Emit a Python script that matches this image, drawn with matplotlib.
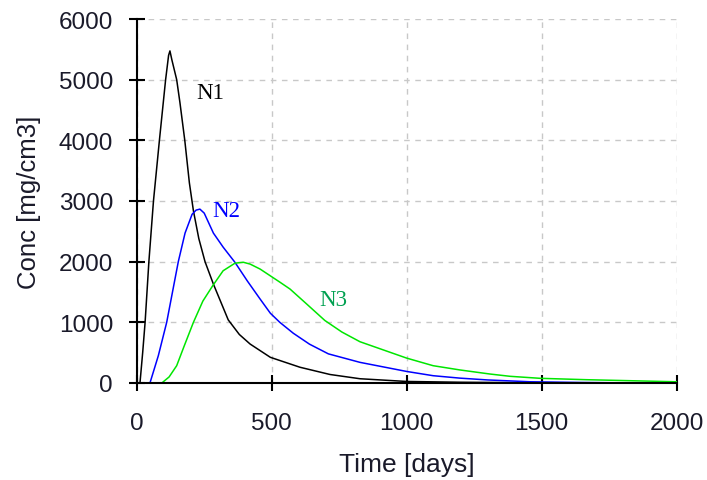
import numpy as np
import matplotlib.pyplot as plt

n1_t = [12, 22, 31, 45, 62, 84, 107, 118, 123, 130, 148, 160, 178, 195, 210, 230, 253, 284, 339,
        380, 420, 495, 605, 716, 827, 1000, 1200, 1400, 1600, 2000]
n1_c = [0, 500, 1000, 2000, 3000, 4000, 5000, 5400, 5474, 5330, 5000, 4624, 4000, 3300, 2838,
        2380, 2000, 1630, 1040, 800, 642, 423, 259, 140, 70, 25, 12, 6, 3, 0]

n2_t = [49, 80, 111, 154, 179, 205, 220, 234, 250, 284, 320, 364, 410, 457, 495, 530, 580, 640,
        710, 827, 1000, 1098, 1197, 1300, 1457, 1650, 1864, 2000]
n2_c = [0, 450, 1000, 2000, 2471, 2780, 2850, 2866, 2800, 2471, 2240, 1988, 1680, 1384, 1150,
        1000, 820, 640, 480, 340, 190, 120, 80, 50, 20, 8, 0, 0]

n3_t = [93, 120, 148, 175, 210, 245, 281, 320, 364, 395, 420, 457, 531, 568, 630, 697, 760, 827,
        1000, 1098, 1197, 1308, 1383, 1494, 1667, 2000]
n3_c = [0, 100, 285, 600, 1000, 1350, 1600, 1850, 1975, 1990, 1960, 1878, 1660, 1548, 1300,
        1030, 840, 680, 410, 285, 215, 148, 110, 77, 54, 20]

labels = ['N1', 'N2', 'N3']
label_pos = [(220, 4790), (281, 2850), (678, 1380)]
line_colors = ['black', '#0000ff', '#00e600']
label_colors = ['black', '#0000ff', '#00a050']

fig = plt.figure(figsize=(7.07, 4.81), dpi=100)
ax = fig.add_axes([0.1934, 0.2017, 0.957 - 0.1934, 0.9584 - 0.2017])

ax.plot(n1_t, n1_c, color=line_colors[0], lw=1.1)
ax.plot(n2_t, n2_c, color=line_colors[1], lw=1.1)
ax.plot(n3_t, n3_c, color=line_colors[2], lw=1.1)

for lab, (x, y), c in zip(labels, label_pos, label_colors):
    ax.text(x, y, lab, color=c, fontsize=16.5, family='Liberation Serif', va='center', ha='left')

ax.set_xlim(0, 2000)
ax.set_ylim(0, 6000)
ax.set_xticks([0, 500, 1000, 1500, 2000])
ax.set_yticks([0, 1000, 2000, 3000, 4000, 5000, 6000])
ax.grid(True, color='#c8c8c8', linestyle=(0, (4, 4)), lw=1)
ax.set_axisbelow(True)

for s in ['top', 'right']:
    ax.spines[s].set_visible(False)
for s in ['left', 'bottom']:
    ax.spines[s].set_linewidth(1.5)
    ax.spines[s].set_zorder(5)

ax.tick_params(direction='inout', length=12, width=1.5, labelsize=17.5, colors='black')
ax.tick_params(axis='x', pad=15)
ax.tick_params(axis='y', pad=11)
for lbl in ax.get_xticklabels() + ax.get_yticklabels():
    lbl.set_family('Liberation Sans')
    lbl.set_color('#1a1a2a')

ax.set_xlabel('Time [days]', fontsize=19, family='Liberation Sans', labelpad=13, color='#1a1a2a')
ax.set_ylabel('Conc [mg/cm3]', fontsize=18.5, family='Liberation Sans', labelpad=13, color='#1a1a2a')

fig.savefig('out.png', dpi=100)
